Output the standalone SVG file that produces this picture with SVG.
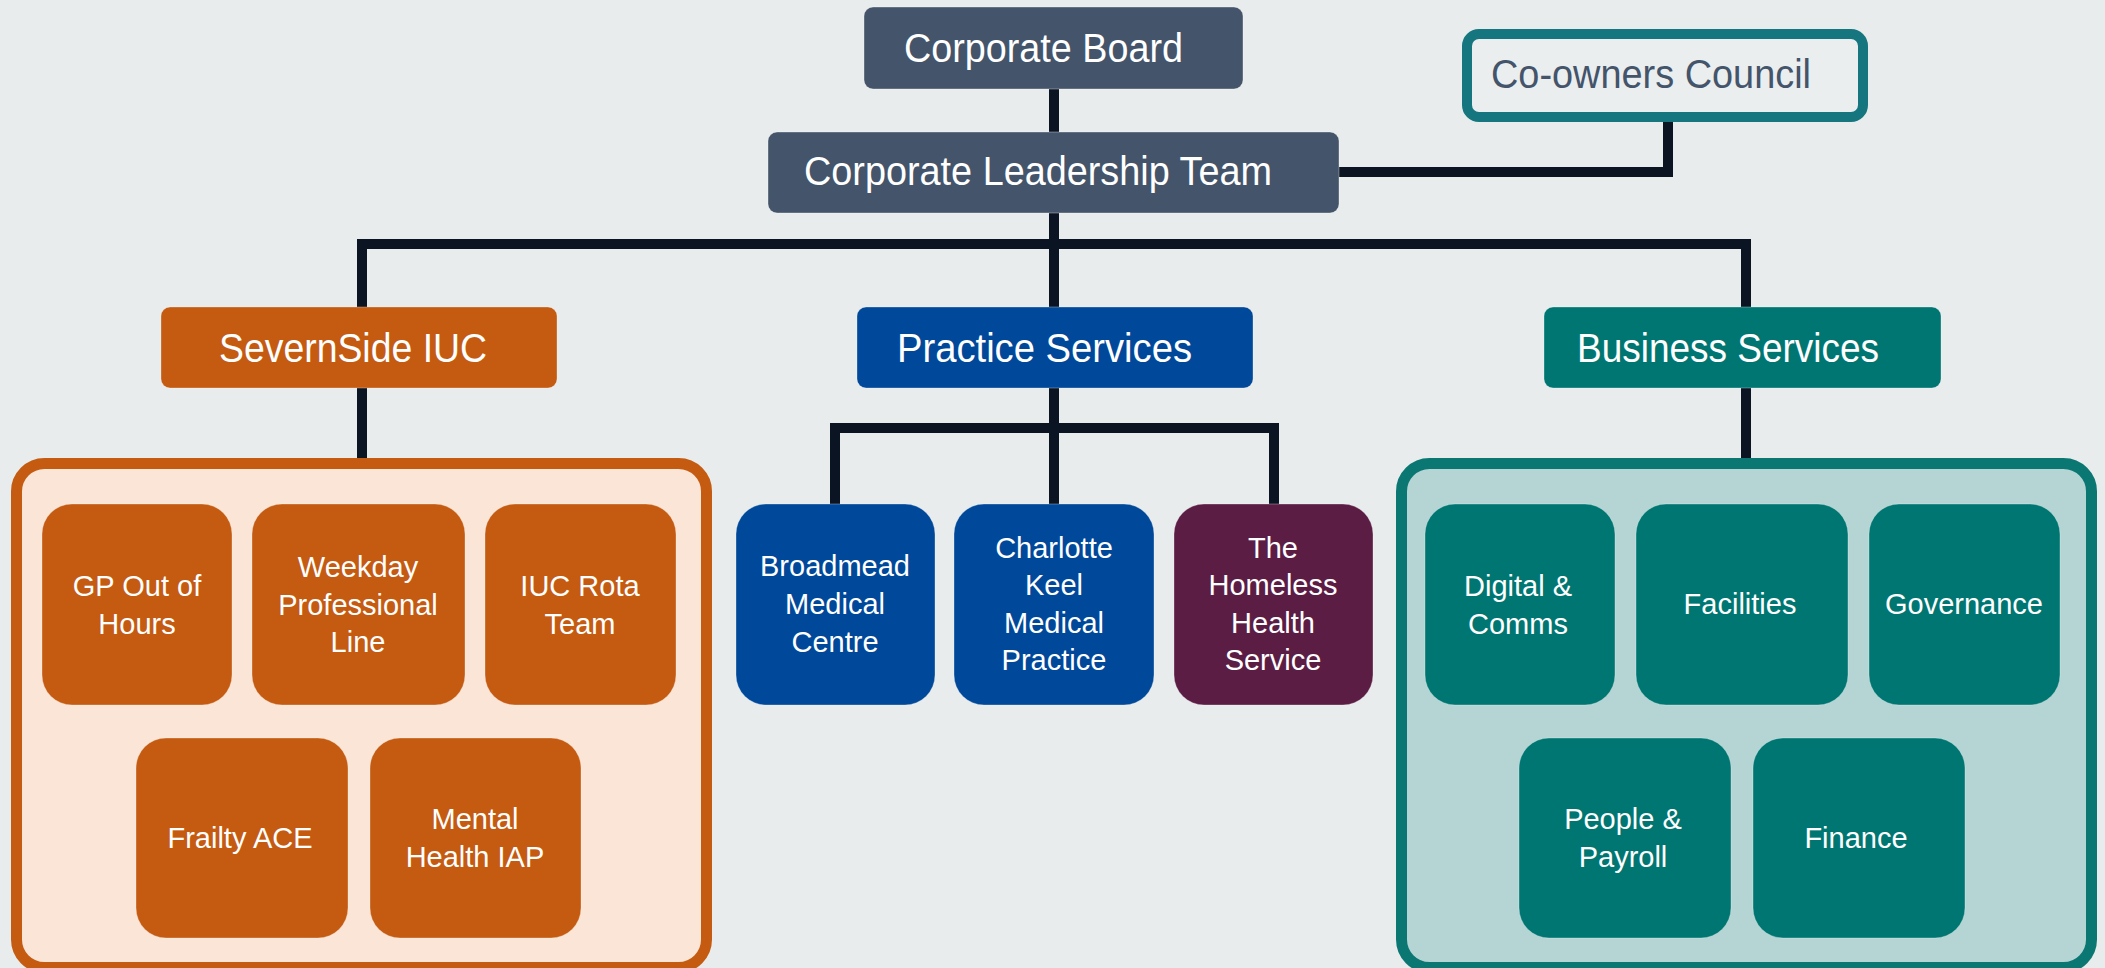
<svg xmlns="http://www.w3.org/2000/svg" width="2105" height="968" viewBox="0 0 2105 968">
<defs>
<style>
.hdr{font-family:"Liberation Sans",Arial,sans-serif;font-size:40px;fill:#ffffff}
.sm{font-family:"Liberation Sans",Arial,sans-serif;font-size:29px;fill:#ffffff;text-anchor:middle}
.slate{fill:#44546a;stroke:#ffffff;stroke-opacity:0.35;stroke-width:1}
.orange{fill:#c55a11;stroke:#ffffff;stroke-opacity:0.3;stroke-width:1}
.blue{fill:#00489a;stroke:#ffffff;stroke-opacity:0.3;stroke-width:1}
.teal{fill:#007672;stroke:#ffffff;stroke-opacity:0.3;stroke-width:1}
.purple{fill:#5c1d45;stroke:#ffffff;stroke-opacity:0.3;stroke-width:1}
.conn{fill:none;stroke:#0b1423;stroke-width:10;stroke-linejoin:miter}
</style>
</defs>
<rect x="0" y="0" width="2105" height="968" fill="#e8ecec"/>

<g id="connectors">
<path class="conn" d="M1054,89 V132"/>
<path class="conn" d="M1339,172 H1668 V122"/>
<path class="conn" d="M1054,213 V307"/>
<path class="conn" d="M362,307 V244 H1746 V307"/>
<path class="conn" d="M362,388 V458"/>
<path class="conn" d="M1054,388 V504"/>
<path class="conn" d="M835,504 V428 H1274 V504"/>
<path class="conn" d="M1746,388 V458"/>
</g>

<g id="corporate-board">
<rect class="slate" x="864" y="7" width="379" height="82" rx="9"/>
<text class="hdr" x="904" y="62" textLength="279" lengthAdjust="spacingAndGlyphs">Corporate Board</text>
</g>
<g id="co-owners-council">
<rect x="1467" y="34" width="396" height="83" rx="12" fill="#eaeeef" stroke="#15767f" stroke-width="10"/>
<text class="hdr" x="1491" y="88" textLength="320" lengthAdjust="spacingAndGlyphs" style="fill:#44546a">Co-owners Council</text>
</g>
<g id="corporate-leadership-team">
<rect class="slate" x="768" y="132" width="571" height="81" rx="9"/>
<text class="hdr" x="804" y="185" textLength="468" lengthAdjust="spacingAndGlyphs">Corporate Leadership Team</text>
</g>
<g id="severnside-iuc">
<rect class="orange" x="161" y="307" width="396" height="81" rx="9"/>
<text class="hdr" x="219" y="362" textLength="268" lengthAdjust="spacingAndGlyphs">SevernSide IUC</text>
</g>
<g id="practice-services">
<rect class="blue" x="857" y="307" width="396" height="81" rx="9"/>
<text class="hdr" x="897" y="362" textLength="295" lengthAdjust="spacingAndGlyphs">Practice Services</text>
</g>
<g id="business-services">
<rect class="teal" x="1544" y="307" width="397" height="81" rx="9"/>
<text class="hdr" x="1577" y="362" textLength="302" lengthAdjust="spacingAndGlyphs">Business Services</text>
</g>

<g id="severnside-group">
<rect x="16.5" y="463.5" width="690" height="504" rx="28" fill="#fbe5d6" stroke="#c55a11" stroke-width="11"/>
</g>
<g id="gp-out-of-hours">
<rect class="orange" x="42" y="504" width="190" height="201" rx="30"/>
<text class="sm" x="137" y="596">GP Out of</text>
<text class="sm" x="137" y="634">Hours</text>
</g>
<g id="weekday-professional-line">
<rect class="orange" x="252" y="504" width="213" height="201" rx="30"/>
<text class="sm" x="358" y="577">Weekday</text>
<text class="sm" x="358" y="615">Professional</text>
<text class="sm" x="358" y="652">Line</text>
</g>
<g id="iuc-rota-team">
<rect class="orange" x="485" y="504" width="191" height="201" rx="30"/>
<text class="sm" x="580" y="596">IUC Rota</text>
<text class="sm" x="580" y="634">Team</text>
</g>
<g id="frailty-ace">
<rect class="orange" x="136" y="738" width="212" height="200" rx="30"/>
<text class="sm" x="240" y="848">Frailty ACE</text>
</g>
<g id="mental-health-iap">
<rect class="orange" x="370" y="738" width="211" height="200" rx="30"/>
<text class="sm" x="475" y="829">Mental</text>
<text class="sm" x="475" y="867">Health IAP</text>
</g>

<g id="broadmead-medical-centre">
<rect class="blue" x="736" y="504" width="199" height="201" rx="30"/>
<text class="sm" x="835" y="576">Broadmead</text>
<text class="sm" x="835" y="614">Medical</text>
<text class="sm" x="835" y="652">Centre</text>
</g>
<g id="charlotte-keel-medical-practice">
<rect class="blue" x="954" y="504" width="200" height="201" rx="30"/>
<text class="sm" x="1054" y="558">Charlotte</text>
<text class="sm" x="1054" y="595">Keel</text>
<text class="sm" x="1054" y="633">Medical</text>
<text class="sm" x="1054" y="670">Practice</text>
</g>
<g id="homeless-health-service">
<rect class="purple" x="1174" y="504" width="199" height="201" rx="30"/>
<text class="sm" x="1273" y="558">The</text>
<text class="sm" x="1273" y="595">Homeless</text>
<text class="sm" x="1273" y="633">Health</text>
<text class="sm" x="1273" y="670">Service</text>
</g>

<g id="business-group">
<rect x="1401.5" y="463.5" width="690" height="504" rx="28" fill="#b5d4d4" stroke="#0b7773" stroke-width="11"/>
</g>
<g id="digital-comms">
<rect class="teal" x="1425" y="504" width="190" height="201" rx="30"/>
<text class="sm" x="1518" y="596">Digital &amp;</text>
<text class="sm" x="1518" y="634">Comms</text>
</g>
<g id="facilities">
<rect class="teal" x="1636" y="504" width="212" height="201" rx="30"/>
<text class="sm" x="1740" y="614">Facilities</text>
</g>
<g id="governance">
<rect class="teal" x="1869" y="504" width="191" height="201" rx="30"/>
<text class="sm" x="1964" y="614">Governance</text>
</g>
<g id="people-payroll">
<rect class="teal" x="1519" y="738" width="212" height="200" rx="30"/>
<text class="sm" x="1623" y="829">People &amp;</text>
<text class="sm" x="1623" y="867">Payroll</text>
</g>
<g id="finance">
<rect class="teal" x="1753" y="738" width="212" height="200" rx="30"/>
<text class="sm" x="1856" y="848">Finance</text>
</g>
</svg>
